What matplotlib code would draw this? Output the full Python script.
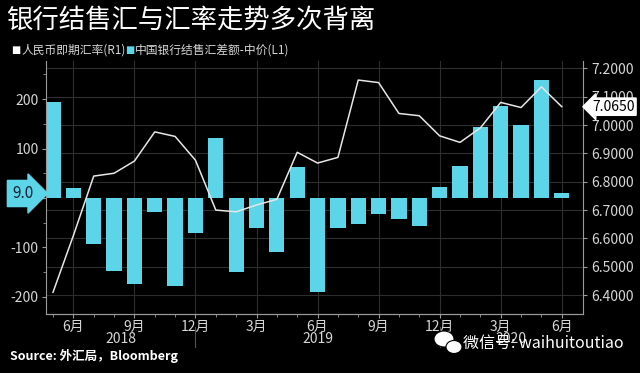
import matplotlib
matplotlib.use('Agg')
import matplotlib.pyplot as plt
import matplotlib.transforms as mtransforms
from matplotlib.patches import Ellipse
import numpy as np
import pandas as pd

plt.rcParams['font.family'] = ['Noto Sans CJK SC', 'DejaVu Sans']

# data (May 2018 - Jun 2020)
months = pd.period_range('2018-05', '2020-06', freq='M')
net_fx = [195, 20, -93, -148, -175, -29, -178, -70, 121, -149, -60, -110, 63,
          -191, -60, -53, -33, -43, -56, 22, 64, 143, 187, 148, 239, 9]
usdcny = [6.41, 6.61, 6.82, 6.83, 6.873, 6.976, 6.96, 6.876, 6.70, 6.694, 6.718,
          6.738, 6.904, 6.866, 6.886, 7.159, 7.15, 7.041, 7.033, 6.962, 6.939,
          6.99, 7.08, 7.062, 7.135, 7.065]
quarter_months = [3, 6, 9, 12]
left_ticks = [-200, -100, 0, 100, 200]
right_ticks = [6.4, 6.5, 6.6, 6.7, 6.8, 6.9, 7.0, 7.1, 7.2]

bar_color = '#5dd5e8'
line_color = '#e6e6e6'
txt_color = '#d6d6d6'
grid_color = '#2e2e2e'
spine_color = '#9a9a9a'

x = np.arange(len(months))
xlim = (-0.36, 26.05)
lylim = (-235, 277)
rylim = (6.333, 7.226)

fig = plt.figure(figsize=(6.4, 3.73), dpi=100, facecolor='black')
ax = fig.add_axes([0.0714, 0.158, 0.8397, 0.6783])
ax.set_facecolor('black')
ax.set_xlim(*xlim)
ax.set_ylim(*lylim)

# grid (drawn on the bar axis so bars cover it)
major_idx = [i for i, m in enumerate(months) if m.month in quarter_months]
for i in major_idx:
    ax.axvline(i, color=grid_color, lw=0.8, zorder=0)
for r in right_ticks:
    yl = lylim[0] + (r - rylim[0]) / (rylim[1] - rylim[0]) * (lylim[1] - lylim[0])
    ax.axhline(yl, color=grid_color, lw=0.8, zorder=0)

ax.bar(x, net_fx, width=0.75, color=bar_color, zorder=2)

ax2 = ax.twinx()
ax2.set_ylim(*rylim)
ax2.plot(x, usdcny, color=line_color, lw=1.1, zorder=3)

# axes styling
for a in (ax, ax2):
    for s in a.spines.values():
        s.set_color(spine_color)
    a.spines['top'].set_visible(False)
ax.spines['right'].set_visible(False)
ax2.spines['left'].set_visible(False)

ax.set_yticks(left_ticks)
ax.set_yticklabels([str(v) if v != 0 else '' for v in left_ticks])
ax.set_yticks(np.arange(-200, 251, 50), minor=True)
ax.tick_params(axis='y', which='both', colors=spine_color, labelcolor=txt_color,
               labelsize=10, length=3, pad=2)
ax.tick_params(axis='y', which='minor', length=2)

ax2.set_yticks(right_ticks)
ax2.set_yticklabels([f'{v:.4f}' for v in right_ticks])
ax2.tick_params(axis='y', colors=spine_color, labelcolor=txt_color,
                labelsize=10, length=3, pad=3)

ax.set_xticks(major_idx)
ax.set_xticklabels([f'{months[i].month}月' for i in major_idx])
ax.set_xticks(x, minor=True)
ax.tick_params(axis='x', which='both', colors=spine_color, labelcolor=txt_color,
               labelsize=10, length=3, pad=1)
ax.tick_params(axis='x', which='minor', length=2)

# year labels and separators
dec_idx = [i for i, m in enumerate(months) if m.month == 12]
bounds = [xlim[0]] + dec_idx + [xlim[1]]
years = sorted(set(str(m.year) for m in months))
tr = mtransforms.blended_transform_factory(ax.transData, ax.transAxes)
for k, yr in enumerate(years):
    ax.text((bounds[k] + bounds[k + 1]) / 2, -0.1, yr, transform=tr,
            ha='center', va='center', color=txt_color, fontsize=10)
for d in dec_idx:
    ax.plot([d, d], [-0.05, -0.13], transform=tr, color='#555555', lw=0.8,
            clip_on=False)

# last value tags
trl = mtransforms.blended_transform_factory(ax.transAxes, ax.transData)
ax.text(-0.043, net_fx[-1], f'{net_fx[-1]:.1f}', transform=trl, ha='center',
        va='center', fontsize=11, color='#0b2233', zorder=10, clip_on=False,
        bbox=dict(boxstyle='rarrow,pad=0.3', fc=bar_color, ec=bar_color))
trr = mtransforms.blended_transform_factory(ax2.transAxes, ax2.transData)
ax2.text(1.056, usdcny[-1], f'{usdcny[-1]:.4f}', transform=trr, ha='center',
         va='center', fontsize=10, color='black', zorder=10, clip_on=False,
         bbox=dict(boxstyle='larrow,pad=0.12', fc='white', ec='white'))

# title, legend, source
fig.text(0.01, 0.946, '银行结售汇与汇率走势多次背离', color='white', fontsize=19,
         ha='left', va='center')
fig.text(0.018, 0.866, '■', color='white', fontsize=7, ha='left', va='center',
         family=['DejaVu Sans'])
fig.text(0.033, 0.866, '人民币即期汇率(R1)', color=txt_color, fontsize=8.5,
         ha='left', va='center')
fig.text(0.196, 0.866, '■', color=bar_color, fontsize=7, ha='left', va='center',
         family=['DejaVu Sans'])
fig.text(0.211, 0.866, '中国银行结售汇差额-中价(L1)', color=txt_color,
         fontsize=8.5, ha='left', va='center')
fig.text(0.015, 0.045, 'Source: 外汇局，Bloomberg', color='white',
         fontsize=9, fontweight='bold', ha='left', va='center')

# watermark
fig.patches.append(Ellipse((444 / 640, 1 - 339 / 373), 20 / 640, 16 / 373,
                           transform=fig.transFigure, fc='white', ec='black',
                           lw=0.8, zorder=20))
fig.patches.append(Ellipse((454 / 640, 1 - 347 / 373), 16 / 640, 13 / 373,
                           transform=fig.transFigure, fc='white', ec='black',
                           lw=0.8, zorder=21))
fig.text(0.724, 0.08, '微信号: waihuitoutiao', color='white', fontsize=11.5,
         ha='left', va='center', zorder=22)

fig.savefig('out.png', dpi=100, facecolor='black')
